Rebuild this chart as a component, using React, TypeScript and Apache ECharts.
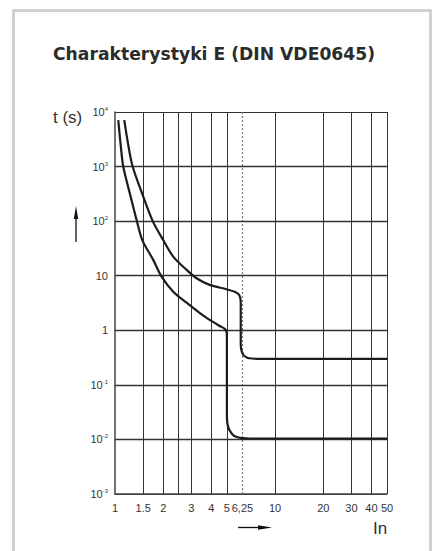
import React, { useEffect, useRef } from "react";
import * as echarts from "echarts";

const titleText = "Charakterystyki E (DIN VDE0645)";
const yAxisName = "t (s)";
const xAxisName = "In";

// vertical grid lines (multiples of In)
const xGridValues = [1.5, 2, 2.5, 3, 4, 5, 10, 20, 30, 40, 50];
const xDottedValue = 6.25;
const xLabelValues = [1, 1.5, 2, 3, 4, 5, 6.25, 10, 20, 30, 40, 50];
const yTicks = [0.001, 0.01, 0.1, 1, 10, 100, 1000, 10000];

// lower boundary curve [In multiple, t (s)]
const lowerCurve: [number, number][] = [
  [1.048, 7100], [1.085, 2500], [1.126, 1000], [1.24, 315], [1.37, 100],
  [1.48, 45], [1.733, 19.5], [1.954, 9.6], [2.31, 5.1], [2.8, 3.2],
  [3.39, 2.06], [3.9, 1.55], [4.51, 1.2], [4.85, 1.06], [4.98, 0.93],
  [5.0, 0.7], [5.0, 0.03], [5.03, 0.02], [5.15, 0.0155], [5.4, 0.0125],
  [5.7, 0.0112], [6.2, 0.0106], [7, 0.0104], [50, 0.0104],
];

// upper boundary curve [In multiple, t (s)]
const upperCurve: [number, number][] = [
  [1.143, 7100], [1.21, 2490], [1.289, 1000], [1.48, 315], [1.72, 100],
  [2.0, 45], [2.31, 22.4], [2.8, 12.8], [3.23, 9], [3.9, 6.8],
  [4.96, 5.66], [5.6, 5.1], [5.9, 4.6], [6.05, 4.0], [6.1, 3.2],
  [6.1, 0.6], [6.15, 0.44], [6.35, 0.35], [6.7, 0.315], [7.2, 0.304],
  [8, 0.3], [50, 0.3],
];

const fmtX = (v: number) => String(v).replace(".", v === 6.25 ? "," : ".");

export default function App() {
  const ref = useRef<HTMLDivElement>(null);
  useEffect(() => {
    if (!ref.current) return;
    const chart = echarts.init(ref.current, null, { renderer: "svg" });
    const labelFont = "'Liberation Sans', Arial, sans-serif";
    chart.setOption({
      animation: false,
      backgroundColor: "#ffffff",
      grid: { left: 115, top: 112, right: 57, bottom: 57 },
      xAxis: {
        type: "log",
        logBase: 10,
        min: 1,
        max: 50,
        axisLine: { show: true, lineStyle: { color: "#444", width: 1.5 } },
        axisTick: { show: false },
        splitLine: { show: false },
        axisLabel: {
          customValues: xLabelValues,
          formatter: (v: number) => fmtX(Number(v.toPrecision(6))),
          fontFamily: labelFont,
          fontSize: 11,
          color: "#333",
          margin: 8,
        },
      },
      yAxis: {
        type: "log",
        logBase: 10,
        min: yTicks[0],
        max: yTicks[yTicks.length - 1],
        axisLine: { show: true, lineStyle: { color: "#444", width: 1.5 } },
        axisTick: { show: false },
        splitLine: { show: true, lineStyle: { color: "#333", width: 1 } },
        axisLabel: {
          margin: 7,
          formatter: (v: number) => {
            const e = Math.round(Math.log10(v));
            if (e === 0) return "{b|1}";
            if (e === 1) return "{b|10}";
            return "{b|10}{s|" + e + "}";
          },
          rich: {
            b: { fontFamily: labelFont, fontSize: 11, color: "#333", lineHeight: 12 },
            s: { fontFamily: labelFont, fontSize: 6, color: "#333", verticalAlign: "top", lineHeight: 12 },
          },
        },
      },
      graphic: [
        {
          type: "rect",
          shape: { x: 13.5, y: 10.5, width: 417, height: 600 },
          style: { fill: "none", stroke: "#d2d2d2", lineWidth: 3 },
          silent: true,
        },
        {
          type: "text",
          x: 53,
          y: 54,
          style: {
            text: titleText,
            font: "bold 17.2px 'DejaVu Sans', sans-serif",
            fill: "#2b2b2b",
            verticalAlign: "middle",
          },
        },
        {
          type: "text",
          x: 53,
          y: 117,
          style: { text: yAxisName, font: "17px 'Liberation Sans', Arial, sans-serif", fill: "#333", verticalAlign: "middle" },
        },
        {
          type: "text",
          x: 373,
          y: 528,
          style: { text: xAxisName, font: "17px 'Liberation Sans', Arial, sans-serif", fill: "#333", verticalAlign: "middle" },
        },
        { type: "line", shape: { x1: 76, y1: 242, x2: 76, y2: 215 }, style: { stroke: "#111", lineWidth: 1.3 } },
        { type: "polygon", shape: { points: [[76, 206], [73.8, 219], [78.2, 219]] }, style: { fill: "#111" } },
        { type: "line", shape: { x1: 238, y1: 527.5, x2: 262, y2: 527.5 }, style: { stroke: "#111", lineWidth: 1.3 } },
        { type: "polygon", shape: { points: [[272, 527.5], [258, 525.3], [258, 529.7]] }, style: { fill: "#111" } },
      ],
      series: [
        {
          type: "line",
          data: lowerCurve,
          showSymbol: false,
          symbol: "none",
          smooth: 0.3,
          lineStyle: { color: "#1c1c1c", width: 2.2 },
          z: 3,
          markLine: {
            silent: true,
            symbol: "none",
            z: 1,
            label: { show: false },
            lineStyle: { color: "#333", width: 1, type: "solid" },
            data: [
              ...xGridValues.map((v) => ({ xAxis: v })),
              { xAxis: xDottedValue, lineStyle: { color: "#777", width: 1.2, type: [2, 2] } },
            ],
          },
        },
        {
          type: "line",
          data: upperCurve,
          showSymbol: false,
          symbol: "none",
          smooth: 0.3,
          lineStyle: { color: "#1c1c1c", width: 2.2 },
          z: 3,
          markLine: {
            silent: true,
            symbol: "none",
            z: 1,
            label: { show: false },
            lineStyle: { color: "#333", width: 1.3, type: "solid" },
            data: yTicks.slice(1, -1).map((v) => ({ yAxis: v })),
          },
        },
      ],
    });
    return () => chart.dispose();
  }, []);
  return (
    <div
      ref={ref}
      style={{ position: "fixed", left: 0, top: 0, width: 444, height: 551 }}
    />
  );
}
